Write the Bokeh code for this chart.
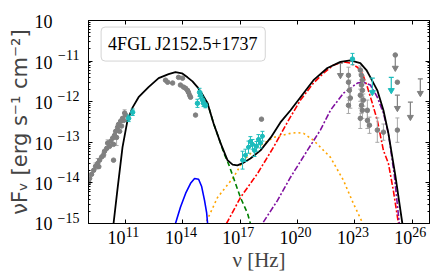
import numpy as np
from bokeh.plotting import figure
from bokeh.models import LogAxis, FixedTicker, Label, Range1d, CustomJSTickFormatter
from bokeh.embed import file_html
from bokeh.resources import INLINE

# ---------------- data (log10 nu [Hz], log10 nuFnu [erg s^-1 cm^-2]) ----------------
# radio / mm archival (gray)
radio_lx = [9.07, 9.12, 9.22, 9.33, 9.43, 9.54, 9.64, 9.75, 9.85, 9.90, 10.01, 10.06, 10.16, 10.22,
            10.32, 10.37, 10.42, 10.48, 10.53, 10.58, 10.63, 10.69, 10.74, 10.79, 10.84, 10.90,
            10.95, 11.00, 10.37, 9.60]
radio_ly = [-13.99, -13.89, -13.79, -13.69, -13.59, -13.52, -13.44, -13.36, -13.31, -13.22, -13.15,
            -13.02, -13.10, -12.98, -12.90, -13.05, -12.83, -12.73, -12.88, -12.63, -12.56, -12.73,
            -12.48, -12.60, -12.41, -12.46, -12.28, -12.33, -13.44, -13.60]
radio_err = [0.05, 0.0, 0.0, 0.0, 0.08, 0.12, 0.0, 0.0, 0.06, 0.0, 0.0, 0.08, 0.0, 0.0,
             0.0, 0.0, 0.0, 0.0, 0.2, 0.0, 0.0, 0.0, 0.0, 0.0, 0.0, 0.0, 0.08, 0.0, 0.0, 0.0]
# IR / optical archival (gray)
opt_lx = [13.09, 13.20, 13.46, 13.77, 13.98, 13.87, 14.03, 14.14, 14.24, 14.29, 14.35, 14.40, 14.66]
opt_ly = [-11.47, -11.52, -11.54, -11.40, -11.42, -11.59, -11.64, -11.67, -11.72, -11.77, -11.84, -11.89, -12.33]
# simultaneous radio / optical-UV (cyan)
cyan_lx = [11.16, 11.37, 14.87, 14.92, 15.03, 15.08, 14.76, 15.18]
cyan_ly = [-12.41, -12.26, -11.77, -11.84, -11.96, -12.04, -12.04, -12.09]
cyan_err = [0.08, 0.08, 0.1, 0.08, 0.08, 0.08, 0.1, 0.06]
# X-ray (cyan)
xr_lx = [17.12, 17.27, 17.43, 17.53, 17.64, 17.74, 17.85, 17.95, 18.06, 18.16]
xr_ly = [-13.44, -13.32, -13.12, -12.98, -13.05, -13.20, -13.10, -12.93, -13.02, -12.85]
xr_yerr = [0.22, 0.15, 0.15, 0.12, 0.12, 0.15, 0.12, 0.12, 0.12, 0.12]
xr_xerr = [0.12, 0.12, 0.12, 0.12, 0.12, 0.12, 0.12, 0.12, 0.12, 0.12]
xg_lx = [18.11]
xg_ly = [-12.43]
# gamma-ray archival (gray)
gam_lx = [22.66, 22.66, 22.71, 22.76, 22.66, 23.28, 23.34, 23.39, 23.34, 23.39, 23.28, 23.44, 23.34,
          23.39, 23.28, 23.65, 23.65, 23.76, 24.17, 24.49, 25.22, 25.22, 25.11]
gam_ly = [-11.35, -11.52, -11.72, -11.91, -12.09, -11.22, -11.35, -11.47, -11.59, -11.72, -11.84,
          -11.96, -12.09, -12.21, -12.41, -12.21, -12.46, -12.58, -12.70, -12.75, -11.52, -12.70, -10.85]
gam_err = [0.2, 0.2, 0.25, 0.25, 0.2, 0.1, 0.1, 0.12, 0.12, 0.15, 0.15, 0.15, 0.2, 0.2, 0.25, 0.25,
           0.2, 0.2, 0.3, 0.2, 0.0, 0.3, 0.0]
# gamma-ray upper limits: x, top, bottom
ulg_lx = [22.24, 25.11, 25.22, 25.90, 26.42]
ulg_top = [-11.05, -10.85, -11.84, -12.01, -11.44]
ulg_bot = [-11.35, -11.17, -12.16, -12.38, -11.79]
ulc_lx = [23.91, 24.90]
ulc_top = [-11.42, -11.40]
ulc_bot = [-11.77, -11.72]
gc_lx = [22.87]
gc_ly = [-10.95]
gc_err = [0.14]

# ---------------- model curves ----------------
tot_lx = [10.30, 10.37, 10.58, 10.84, 11.10, 11.37, 11.68, 12.20, 12.73, 13.25, 13.61, 13.95, 14.24,
          14.50, 14.76, 15.02, 15.29, 15.60, 15.97, 16.33, 16.60, 16.85, 17.10, 17.53, 18.06, 18.60,
          19.10, 19.63, 20.15, 20.83, 21.56, 22.24, 22.76, 23.28, 23.60, 23.81, 24.17, 24.49, 24.75,
          25.11, 25.48, 25.55]
tot_ly = [-15.30, -15.00, -14.14, -13.12, -12.46, -12.14, -11.89, -11.64, -11.42, -11.32, -11.27,
          -11.30, -11.40, -11.50, -11.64, -11.82, -12.04, -12.53, -13.02, -13.44, -13.55, -13.57,
          -13.52, -13.40, -13.20, -12.88, -12.51, -12.21, -11.89, -11.47, -11.17, -11.02, -10.98,
          -11.05, -11.22, -11.40, -11.72, -12.21, -12.78, -13.81, -15.00, -15.25]
blue_lx = [13.55, 13.61, 13.87, 14.14, 14.40, 14.61, 14.82, 14.98, 15.13, 15.24, 15.29, 15.33]
blue_ly = [-15.2, -15.0, -14.60, -14.26, -14.01, -13.89, -13.91, -14.09, -14.43, -14.73, -15.0, -15.2]
green_lx = [15.00, 15.29, 15.60, 15.97, 16.12, 16.40, 16.65, 17.01, 17.38, 17.53, 17.62]
green_ly = [-11.82, -12.04, -12.53, -13.02, -13.24, -13.55, -13.88, -14.36, -14.75, -15.00, -15.20]
orange_lx = [15.05, 15.18, 15.81, 16.65, 17.17, 17.90, 18.74, 19.63, 20.00, 20.31, 20.83, 21.72,
             22.40, 22.92, 23.39, 23.50]
orange_ly = [-15.30, -15.00, -14.36, -13.86, -13.44, -13.12, -12.88, -12.78, -12.76, -12.78, -12.95,
             -13.37, -13.94, -14.51, -14.98, -15.20]
red_lx = [16.15, 16.28, 17.01, 17.90, 18.74, 19.52, 20.15, 20.83, 21.35, 21.87, 22.40, 22.76, 23.13,
          23.39, 23.65, 23.91, 24.17, 24.49, 24.75, 25.01, 25.27, 25.35]
red_ly = [-15.30, -15.00, -14.36, -13.77, -13.12, -12.46, -11.96, -11.54, -11.30, -11.10, -11.02,
          -11.05, -11.15, -11.30, -11.64, -12.04, -12.46, -13.20, -13.52, -14.19, -14.98, -15.25]
purple_lx = [18.05, 18.16, 18.95, 19.63, 20.51, 21.19, 21.72, 22.40, 23.13, 23.44, 23.81, 24.17,
             24.49, 24.75, 25.06, 25.32, 25.40]
purple_ly = [-15.25, -15.00, -14.43, -13.86, -13.20, -12.70, -12.21, -11.79, -11.54, -11.52, -11.59,
             -11.89, -12.28, -12.78, -13.81, -15.00, -15.25]

x_ticks_exp = [11, 14, 17, 20, 23, 26]
y_ticks_exp = [-15, -14, -13, -12, -11, -10]
source_name = "4FGL J2152.5+1737"

X0, X1 = 9.06, 26.9      # log10 x range
Y0, Y1 = -15.0, -10.0    # log10 y range
FW, FH = 341, 203        # frame size in px
PXX = FW / (X1 - X0)     # px per decade (x)
PXY = FH / (Y1 - Y0)     # px per decade (y)


def P(a):
    return [10.0 ** v for v in a]


GRAY = "#808080"
GRAY_ERR = "#a8a8a8"
CYAN = "#1cbcbc"

p = figure(frame_width=FW, frame_height=FH, x_axis_type="log", y_axis_type="log",
           x_range=Range1d(10 ** X0, 10 ** X1), y_range=Range1d(10 ** Y0, 10 ** Y1),
           output_backend="svg", toolbar_location=None,
           min_border_left=88, min_border_right=7, min_border_top=20, min_border_bottom=48)
p.background_fill_color = "white"
p.border_fill_color = "white"
p.outline_line_color = "black"
p.outline_line_width = 1
p.xgrid.visible = False
p.ygrid.visible = False

blank = CustomJSTickFormatter(code="return '';")
ten = CustomJSTickFormatter(code="return '10';")
expo = CustomJSTickFormatter(code="""
const e = Math.round(Math.log(tick) / Math.LN10);
return (e < 0 ? "\u2212" : "") + String(Math.abs(e));
""")

yminor = [k * 10.0 ** e for e in range(-15, -10) for k in range(2, 10)]


def tick_axis(ax):
    ax.major_tick_in = 4
    ax.major_tick_out = 0
    ax.minor_tick_in = 2
    ax.minor_tick_out = 0
    ax.axis_line_color = "black"
    ax.major_tick_line_color = "black"
    ax.minor_tick_line_color = "black"
    ax.formatter = blank
    ax.major_label_text_font_size = "2px"
    ax.major_label_text_color = None
    ax.major_label_standoff = 0


def label_axis(ax, formatter, size, standoff):
    ax.major_tick_in = 0
    ax.major_tick_out = 0
    ax.minor_tick_in = 0
    ax.minor_tick_out = 0
    ax.major_tick_line_color = None
    ax.minor_tick_line_color = None
    ax.axis_line_color = None
    ax.formatter = formatter
    ax.major_label_text_font = "Liberation Serif"
    ax.major_label_text_font_size = size
    ax.major_label_text_color = "black"
    ax.major_label_standoff = standoff


# frame ticks on all four sides
xa = p.xaxis[0]
xa.ticker = FixedTicker(ticks=[10.0 ** e for e in x_ticks_exp], minor_ticks=[])
tick_axis(xa)
ya = p.yaxis[0]
ya.ticker = FixedTicker(ticks=[10.0 ** e for e in y_ticks_exp], minor_ticks=yminor)
tick_axis(ya)
top = LogAxis(ticker=FixedTicker(ticks=[10.0 ** e for e in x_ticks_exp], minor_ticks=[]))
tick_axis(top)
p.add_layout(top, "above")
right = LogAxis(ticker=FixedTicker(ticks=[10.0 ** e for e in y_ticks_exp], minor_ticks=yminor))
tick_axis(right)
p.add_layout(right, "right")

# left tick labels: raised exponent (inner) and "10" (outer, kept inside the range)
y_exp_pos = [e + 6 / PXY for e in y_ticks_exp]
y_ten_pos = [max(e - 1 / PXY, Y0) for e in y_ticks_exp]
y_exp_ax = LogAxis(ticker=FixedTicker(ticks=[10.0 ** v for v in y_exp_pos], minor_ticks=[]))
label_axis(y_exp_ax, expo, "14px", 9)
p.add_layout(y_exp_ax, "left")
y_ten_ax = LogAxis(ticker=FixedTicker(ticks=[10.0 ** v for v in y_ten_pos], minor_ticks=[]))
label_axis(y_ten_ax, ten, "18px", 2)
y_ten_ax.axis_label = "\u03bdF\u1d65 [erg s\u207b\u00b9 cm\u207b\u00b2]"
y_ten_ax.axis_label_text_font = "DejaVu Sans"
y_ten_ax.axis_label_text_font_style = "normal"
y_ten_ax.axis_label_text_font_size = "21px"
y_ten_ax.axis_label_standoff = 0
p.add_layout(y_ten_ax, "left")

# bottom tick labels: exponent (inner, shifted right) and "10" (outer, shifted left)
x_exp_ax = LogAxis(ticker=FixedTicker(ticks=[10.0 ** (e + 7 / PXX) for e in x_ticks_exp], minor_ticks=[]))
label_axis(x_exp_ax, expo, "14px", 3)
p.add_layout(x_exp_ax, "below")
x_ten_ax = LogAxis(ticker=FixedTicker(ticks=[10.0 ** (e - 9 / PXX) for e in x_ticks_exp], minor_ticks=[]))
label_axis(x_ten_ax, ten, "18px", -9)
x_ten_ax.axis_label = "\u03bd [Hz]"
x_ten_ax.axis_label_text_font = "Liberation Serif"
x_ten_ax.axis_label_text_font_style = "normal"
x_ten_ax.axis_label_text_font_size = "21px"
x_ten_ax.axis_label_standoff = 1
p.add_layout(x_ten_ax, "below")


def errbars(lx, ly, err, color, cap=4, lw=1):
    xs, y0, y1, cx, cy = [], [], [], [], []
    for a, b, e in zip(lx, ly, err):
        if e > 0:
            xs.append(10 ** a)
            y0.append(10 ** (b - e))
            y1.append(10 ** (b + e))
            cx += [10 ** a, 10 ** a]
            cy += [10 ** (b - e), 10 ** (b + e)]
    if xs:
        p.segment(xs, y0, xs, y1, line_color=color, line_width=lw)
        p.scatter(cx, cy, marker="dash", size=cap, line_color=color, line_width=lw)


def upper_limits(lx, top_, bot, color):
    xs = P(lx)
    p.segment(xs, P(top_), xs, P(bot), line_color=color, line_width=1.2)
    p.scatter(xs, P(top_), marker="dash", size=5, line_color=color, line_width=1.2)
    p.scatter(xs, P(bot), marker="inverted_triangle", size=6, line_color=color, fill_color=color)


# model curves
p.line(P(orange_lx), P(orange_ly), line_color="orange", line_width=1.6, line_dash="2 3")
p.line(P(green_lx), P(green_ly), line_color="green", line_width=1.6, line_dash="5 3")
p.line(P(red_lx), P(red_ly), line_color="red", line_width=1.6, line_dash="6 2 2 2")
p.line(P(purple_lx), P(purple_ly), line_color="#8010a0", line_width=1.6, line_dash="6 2 2 2")
p.line(P(blue_lx), P(blue_ly), line_color="blue", line_width=1.6)

# archival gray data
errbars(radio_lx, radio_ly, radio_err, GRAY_ERR)
p.scatter(P(radio_lx), P(radio_ly), marker="circle", size=4.5, color=GRAY)
p.scatter(P(opt_lx), P(opt_ly), marker="circle", size=4.5, color=GRAY)
errbars(gam_lx, gam_ly, gam_err, GRAY_ERR)
p.scatter(P(gam_lx), P(gam_ly), marker="circle", size=4.5, color=GRAY)
upper_limits(ulg_lx, ulg_top, ulg_bot, GRAY)
p.scatter(P(xg_lx), P(xg_ly), marker="circle", size=4.5, color=GRAY)

# total model
p.line(P(tot_lx), P(tot_ly), line_color="black", line_width=1.8)

# cyan data
errbars(cyan_lx, cyan_ly, cyan_err, CYAN)
p.scatter(P(cyan_lx), P(cyan_ly), marker="circle", size=4.5, color=CYAN)
xs = P(xr_lx)
p.segment([10 ** (a - e) for a, e in zip(xr_lx, xr_xerr)], P(xr_ly),
          [10 ** (a + e) for a, e in zip(xr_lx, xr_xerr)], P(xr_ly), line_color=CYAN, line_width=1)
errbars(xr_lx, xr_ly, xr_yerr, CYAN)
p.scatter(xs, P(xr_ly), marker="circle", size=4, color=CYAN)
upper_limits(ulc_lx, ulc_top, ulc_bot, CYAN)
errbars(gc_lx, gc_ly, gc_err, CYAN)
p.scatter(P(gc_lx), P(gc_ly), marker="circle", size=4.5, color=CYAN)

lab = Label(x=10 ** 9.72, y=10 ** -10.58, text=source_name, text_font="Liberation Serif",
            text_font_size="18px", text_baseline="middle", text_align="left", text_color="black",
            background_fill_color="white", border_line_color="#d4d4d4", border_line_width=1,
            padding=7, border_radius=4)
p.add_layout(lab)

open("out.html", "w").write(file_html(p, INLINE))
